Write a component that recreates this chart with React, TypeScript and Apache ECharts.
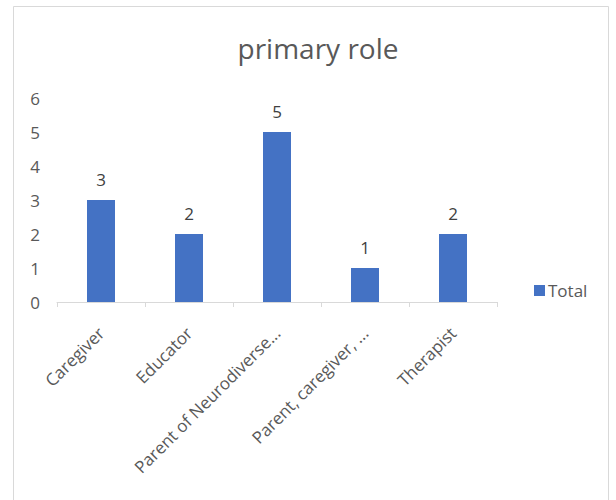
import React, { useEffect, useRef } from "react";
import * as echarts from "echarts";

const categories = [
  "Caregiver",
  "Educator",
  "Parent of Neurodiverse...",
  "Parent, caregiver, ...",
  "Therapist",
];
const totals = [3, 2, 5, 1, 2];
const seriesName = "Total";
const chartTitle = "primary role";

const FONT = "'Open Sans', sans-serif";

export default function App() {
  const ref = useRef<HTMLDivElement>(null);
  useEffect(() => {
    if (!ref.current) return;
    const chart = echarts.init(ref.current, undefined, { renderer: "svg" });
    chart.setOption({
      animation: false,
      backgroundColor: "#ffffff",
      textStyle: { fontFamily: FONT },
      title: {
        text: chartTitle,
        left: 313,
        textAlign: "center",
        top: 29,
        textStyle: { fontFamily: FONT, fontSize: 28, fontWeight: "normal", color: "#595959" },
      },
      legend: {
        data: [seriesName],
        orient: "vertical",
        left: 529,
        top: 277,
        itemWidth: 11,
        itemHeight: 11,
        itemGap: 4,
        icon: "rect",
        textStyle: { fontFamily: FONT, fontSize: 17, color: "#595959", padding: [0, 0, 0, -2] },
      },
      graphic: [
        {
          type: "rect",
          shape: { x: 13.5, y: 6.5, width: 595, height: 510 },
          style: { fill: "none", stroke: "#d9d9d9", lineWidth: 1 },
          silent: true,
        },
      ],
      grid: { left: 57, right: 119, top: 98, bottom: 198, containLabel: false },
      xAxis: {
        type: "category",
        data: categories,
        boundaryGap: true,
        axisLine: { show: true, lineStyle: { color: "#d9d9d9", width: 1 } },
        axisTick: { show: true, alignWithLabel: false, length: 5, lineStyle: { color: "#d9d9d9" } },
        axisLabel: {
          rotate: 45,
          interval: 0,
          margin: 28,
          fontFamily: FONT,
          fontSize: 17,
          color: "#595959",
        },
      },
      yAxis: {
        type: "value",
        min: 0,
        max: 6,
        interval: 1,
        axisLine: { show: false },
        axisTick: { show: false },
        splitLine: { show: false },
        axisLabel: { margin: 17, fontFamily: FONT, fontSize: 17, color: "#595959" },
      },
      series: [
        {
          name: seriesName,
          type: "bar",
          data: totals,
          barWidth: 28,
          itemStyle: { color: "#4472c4" },
          label: {
            show: true,
            position: "top",
            distance: 12,
            fontFamily: FONT,
            fontSize: 17,
            color: "#404040",
          },
        },
      ],
    });
    return () => chart.dispose();
  }, []);
  return (
    <div
      ref={ref}
      style={{ position: "fixed", left: 0, top: 0, width: 616, height: 500 }}
    />
  );
}
